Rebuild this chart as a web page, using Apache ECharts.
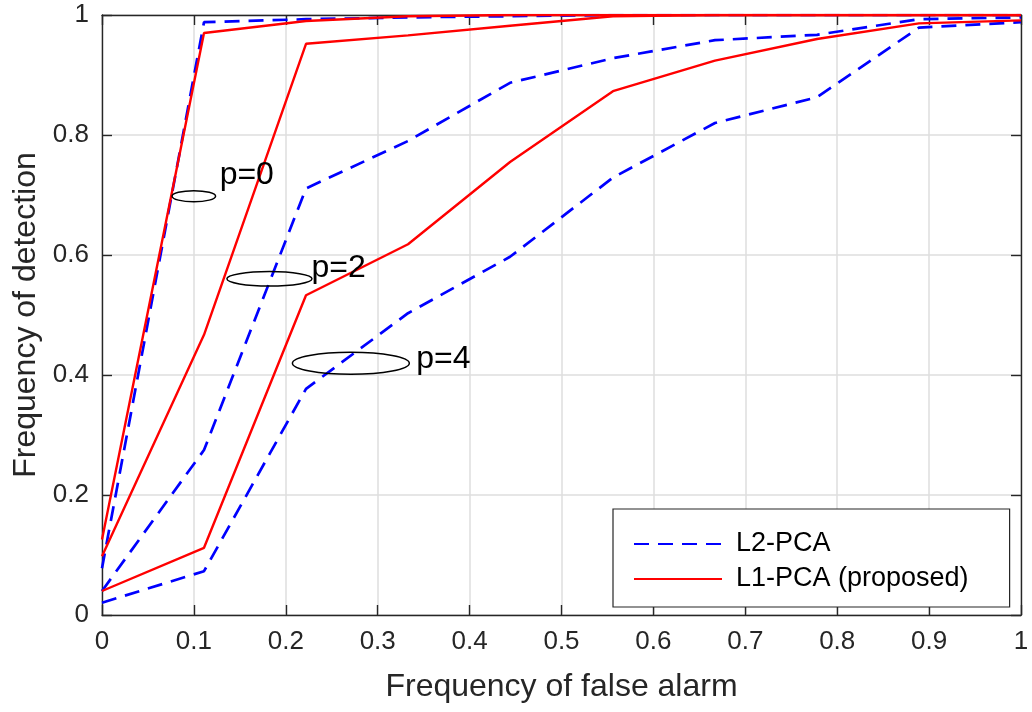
<!DOCTYPE html>
<html>
<head>
<meta charset="utf-8">
<script src="https://cdn.jsdelivr.net/npm/echarts@6/dist/echarts.min.js"></script>
<style>
html,body{margin:0;padding:0;background:#fff;}
#chart{width:1032px;height:712px;}
</style>
</head>
<body>
<div id="chart"></div>
<script>
// ---- data ----
var falseAlarm = [0, 0.111, 0.222, 0.333, 0.444, 0.556, 0.667, 0.778, 0.889, 1];
var l2_p0 = [0.078, 0.988, 0.993, 0.996, 0.998, 1.0, 1.0, 1.0, 1.0, 1.0];
var l1_p0 = [0.126, 0.970, 0.990, 0.998, 1.0, 1.0, 1.0, 1.0, 1.0, 1.0];
var l2_p2 = [0.040, 0.275, 0.711, 0.790, 0.887, 0.928, 0.958, 0.967, 0.993, 0.996];
var l1_p2 = [0.098, 0.467, 0.952, 0.966, 0.982, 0.998, 1.0, 1.0, 1.0, 1.0];
var l2_p4 = [0.0205, 0.073, 0.377, 0.503, 0.597, 0.729, 0.820, 0.863, 0.979, 0.988];
var l1_p4 = [0.040, 0.112, 0.533, 0.618, 0.755, 0.873, 0.924, 0.960, 0.986, 0.991];
var xTickLabels = ['0','0.1','0.2','0.3','0.4','0.5','0.6','0.7','0.8','0.9','1'];
var yTickLabels = ['0','0.2','0.4','0.6','0.8','1'];
var seriesNames = ['L2-PCA', 'L1-PCA (proposed)'];
// annotation labels: text, text anchor (x,y), ellipse centre (x,y), radii (x,y) in data units
var annText = ['p=0', 'p=2', 'p=4'];
var annTextX = [0.128, 0.228, 0.342];
var annTextY = [0.7325, 0.578, 0.427];
var annEllX = [0.0999, 0.1822, 0.2708];
var annEllY = [0.698, 0.5603, 0.4195];
var annRx = [0.0237, 0.0463, 0.0636];
var annRy = [0.0092, 0.012, 0.0183];

function pairs(xs, ys){ return xs.map(function(x,i){ return [x, ys[i]]; }); }

var FONT = '"Liberation Sans", Arial, sans-serif';
var AX = '#262626';

var chart = echarts.init(document.getElementById('chart'), null, {renderer:'canvas'});

function blue(data){
  return {type:'line', name:seriesNames[0], data:data, symbol:'none', showSymbol:false,
    lineStyle:{color:'#0000ff', width:2.7, type:[15,9]}, itemStyle:{color:'#0000ff'}, z:2};
}
function red(data){
  return {type:'line', name:seriesNames[1], data:data, symbol:'none', showSymbol:false,
    lineStyle:{color:'#ff0000', width:2.4}, itemStyle:{color:'#ff0000'}, z:3};
}

var option = {
  animation:false,
  backgroundColor:'#fff',
  grid:{left:102, right:11, top:15, bottom:97, containLabel:false},
  legend:{
    orient:'vertical', left:613, top:509,
    data:seriesNames,
    itemWidth:88, itemHeight:14, itemGap:5,
    padding:[20, 41, 13, 20],
    itemStyle:{opacity:0, borderWidth:0},
    backgroundColor:'#fff', borderColor:AX, borderWidth:1.2, borderRadius:0,
    textStyle:{fontFamily:FONT, fontSize:27, color:'#000', lineHeight:30, padding:[0,0,0,9]},
    z:10
  },
  xAxis:[{
    type:'value', min:0, max:1, interval:0.1,
    name:'Frequency of false alarm', nameLocation:'middle', nameGap:56,
    nameTextStyle:{fontFamily:FONT, fontSize:32, color:AX},
    axisLine:{show:true, onZero:false, lineStyle:{color:AX, width:1.4}},
    axisTick:{show:true, inside:true, length:10, lineStyle:{color:AX, width:1.4}},
    axisLabel:{fontFamily:FONT, fontSize:26, color:AX, margin:14,
      formatter:function(v){ return xTickLabels[Math.round(v*10)]; }},
    splitLine:{show:true, lineStyle:{color:'#dedede', width:1.5}}
  },{
    type:'value', min:0, max:1, interval:0.1, position:'top',
    axisLine:{show:true, onZero:false, lineStyle:{color:AX, width:1.4}},
    axisTick:{show:true, inside:true, length:10, lineStyle:{color:AX, width:1.4}},
    axisLabel:{show:false}, splitLine:{show:false}
  }],
  yAxis:[{
    type:'value', min:0, max:1, interval:0.2,
    name:'Frequency of detection', nameLocation:'middle', nameGap:60, nameRotate:90,
    nameTextStyle:{fontFamily:FONT, fontSize:32, color:AX},
    axisLine:{show:true, onZero:false, lineStyle:{color:AX, width:1.4}},
    axisTick:{show:true, inside:true, length:10, lineStyle:{color:AX, width:1.4}},
    axisLabel:{fontFamily:FONT, fontSize:26, color:AX, margin:13,
      formatter:function(v){ return yTickLabels[Math.round(v*5)]; }},
    splitLine:{show:true, lineStyle:{color:'#dedede', width:1.5}}
  },{
    type:'value', min:0, max:1, interval:0.2, position:'right',
    axisLine:{show:true, onZero:false, lineStyle:{color:AX, width:1.4}},
    axisTick:{show:true, inside:true, length:10, lineStyle:{color:AX, width:1.4}},
    axisLabel:{show:false}, splitLine:{show:false}
  }],
  series:[
    blue(pairs(falseAlarm, l2_p0)), red(pairs(falseAlarm, l1_p0)),
    blue(pairs(falseAlarm, l2_p2)), red(pairs(falseAlarm, l1_p2)),
    blue(pairs(falseAlarm, l2_p4)), red(pairs(falseAlarm, l1_p4))
  ]
};
chart.setOption(option);

function addAnnotations(){
  var els = [];
  var sx = chart.convertToPixel({gridIndex:0}, [1,0])[0] - chart.convertToPixel({gridIndex:0}, [0,0])[0];
  var sy = chart.convertToPixel({gridIndex:0}, [0,0])[1] - chart.convertToPixel({gridIndex:0}, [0,1])[1];
  for (var i=0;i<annText.length;i++){
    var c = chart.convertToPixel({gridIndex:0}, [annEllX[i], annEllY[i]]);
    var t = chart.convertToPixel({gridIndex:0}, [annTextX[i], annTextY[i]]);
    els.push({type:'ellipse', shape:{cx:c[0], cy:c[1], rx:annRx[i]*sx, ry:annRy[i]*sy},
      style:{fill:'none', stroke:'#000', lineWidth:1.5}, z:20});
    els.push({type:'text', x:t[0], y:t[1],
      style:{text:annText[i], fill:'#000', font:'32px ' + FONT, textAlign:'left', textVerticalAlign:'middle'}, z:20});
  }
  chart.setOption({graphic:{elements:els}});
}
addAnnotations();
</script>
</body>
</html>
